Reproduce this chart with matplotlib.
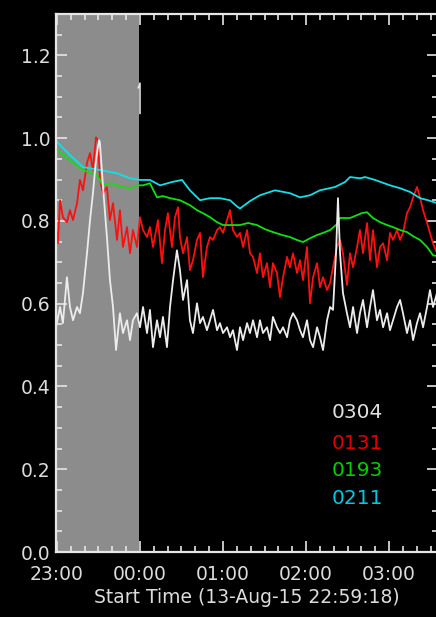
import numpy as np
import matplotlib
matplotlib.use("Agg")
import matplotlib.pyplot as plt
from matplotlib.ticker import MultipleLocator, FixedLocator

# time axis: minutes after 23:00 (start is 22:59:18)
t_start = -0.7
t_end = 275.4
tick_minutes = [0, 60, 120, 180, 240]
tick_labels = ["23:00", "00:00", "01:00", "02:00", "03:00"]
x_title = "Start Time (13-Aug-15 22:59:18)"

# 0304 channel (white)
t_0304 = [-0.7, 2.2, 4.3, 7.2, 9.4, 11.6, 14.5, 16.6, 18.8, 21.7, 23.9, 26.0, 28.2, 30.4, 31.0,
          33.3, 36.1, 38.3, 40.5, 42.7, 45.5, 47.7, 50.6, 52.8, 54.9, 57.8, 60.0, 62.2, 65.1,
          67.2, 69.4, 72.3, 74.5, 76.6, 79.5, 81.7, 83.9, 86.7, 88.9, 91.1, 94.0, 96.1, 98.3,
          101.2, 103.4, 105.5, 108.4, 110.6, 112.8, 115.7, 117.8, 120.0, 122.9, 125.1, 127.2,
          130.1, 132.3, 134.5, 137.4, 139.5, 141.7, 144.6, 146.7, 148.9, 151.8, 154.0, 156.1,
          159.0, 161.2, 163.4, 166.3, 168.4, 170.6, 173.5, 175.7, 177.8, 180.7, 182.9, 185.1,
          188.0, 190.1, 192.3, 195.2, 197.4, 199.5, 201.7, 203.1, 204.6, 206.7, 209.6, 211.8,
          214.0, 216.9, 219.0, 221.2, 224.1, 226.3, 228.4, 231.3, 233.5, 235.7, 238.6, 240.7,
          242.9, 245.8, 248.0, 250.1, 253.0, 255.2, 257.4, 260.2, 262.4, 264.6, 267.5, 269.6,
          271.8, 274.7]
v_0304 = [0.543, 0.592, 0.553, 0.664, 0.592, 0.560, 0.592, 0.577, 0.626, 0.722, 0.802, 0.867,
          0.947, 0.995, 0.990, 0.882, 0.761, 0.657, 0.592, 0.488, 0.577, 0.529, 0.560, 0.512,
          0.560, 0.577, 0.543, 0.592, 0.529, 0.585, 0.495, 0.560, 0.519, 0.568, 0.495, 0.592,
          0.657, 0.729, 0.681, 0.609, 0.657, 0.560, 0.529, 0.601, 0.553, 0.568, 0.536, 0.560,
          0.585, 0.536, 0.553, 0.529, 0.543, 0.519, 0.536, 0.488, 0.543, 0.512, 0.553, 0.529,
          0.560, 0.519, 0.560, 0.529, 0.543, 0.512, 0.568, 0.543, 0.529, 0.543, 0.519, 0.560,
          0.577, 0.560, 0.536, 0.519, 0.560, 0.512, 0.495, 0.543, 0.519, 0.488, 0.560, 0.592,
          0.585, 0.722, 0.855, 0.722, 0.626, 0.577, 0.543, 0.592, 0.529, 0.577, 0.609, 0.543,
          0.592, 0.633, 0.560, 0.585, 0.543, 0.577, 0.536, 0.560, 0.592, 0.609, 0.577, 0.529,
          0.560, 0.512, 0.553, 0.577, 0.543, 0.592, 0.633, 0.592, 0.626]

# 0131 channel (red)
t_0131 = [-0.7, 0.7, 2.2, 4.3, 7.2, 9.4, 11.6, 14.5, 16.6, 18.8, 21.7, 23.9, 26.0, 28.2, 29.6,
          31.1, 33.3, 36.1, 38.3, 40.5, 43.4, 45.5, 47.7, 50.6, 52.8, 54.9, 57.8, 60.0, 62.2,
          65.1, 67.2, 69.4, 73.0, 75.9, 78.1, 80.2, 83.1, 85.3, 87.5, 88.9, 91.1, 94.0, 96.1,
          98.3, 101.2, 103.4, 105.5, 108.4, 110.6, 112.8, 115.7, 117.8, 120.0, 122.9, 125.1,
          127.2, 130.1, 132.3, 134.5, 137.4, 139.5, 141.7, 144.6, 146.7, 148.9, 151.8, 154.0,
          156.1, 159.0, 161.2, 163.4, 166.3, 168.4, 170.6, 173.5, 175.7, 177.8, 180.7, 182.9,
          185.1, 188.0, 190.1, 192.3, 195.2, 197.4, 199.5, 202.4, 204.6, 206.7, 209.6, 211.8,
          214.0, 216.9, 219.0, 221.2, 224.1, 226.3, 228.4, 231.3, 233.5, 235.7, 238.6, 240.7,
          242.9, 245.8, 248.0, 250.1, 253.0, 255.2, 257.4, 260.2, 262.4, 264.6, 267.5, 269.6,
          271.8, 274.7]
v_0131 = [0.783, 0.746, 0.850, 0.809, 0.797, 0.826, 0.802, 0.843, 0.899, 0.874, 0.940, 0.964,
          0.923, 1.002, 0.995, 0.899, 0.867, 0.882, 0.802, 0.843, 0.754, 0.826, 0.737, 0.785,
          0.722, 0.778, 0.737, 0.809, 0.778, 0.761, 0.785, 0.737, 0.802, 0.698, 0.778, 0.819,
          0.737, 0.809, 0.833, 0.761, 0.722, 0.761, 0.681, 0.705, 0.754, 0.771, 0.664, 0.737,
          0.761, 0.754, 0.778, 0.785, 0.771, 0.802, 0.826, 0.778, 0.761, 0.771, 0.737, 0.778,
          0.722, 0.713, 0.674, 0.722, 0.664, 0.698, 0.640, 0.698, 0.674, 0.616, 0.664, 0.713,
          0.688, 0.722, 0.674, 0.705, 0.657, 0.737, 0.601, 0.664, 0.698, 0.640, 0.664, 0.633,
          0.650, 0.688, 0.737, 0.754, 0.722, 0.645, 0.722, 0.688, 0.737, 0.778, 0.722, 0.795,
          0.705, 0.778, 0.688, 0.737, 0.746, 0.705, 0.771, 0.754, 0.778, 0.754, 0.771, 0.819,
          0.833, 0.857, 0.882, 0.857, 0.826, 0.795, 0.771, 0.746, 0.722]

# 0193 channel (green)
t_0193 = [-0.7, 2.2, 9.4, 18.8, 28.9, 33.3, 38.3, 43.4, 47.7, 52.8, 57.8, 62.2, 67.2, 72.3,
          76.6, 81.7, 88.9, 96.1, 101.2, 107.0, 110.6, 115.7, 120.0, 126.5, 132.3, 138.1, 144.6,
          150.4, 156.1, 162.7, 168.4, 173.5, 177.8, 182.9, 188.0, 192.3, 197.4, 202.4, 204.6,
          208.2, 211.8, 216.9, 220.5, 224.1, 228.4, 233.5, 238.6, 242.9, 248.0, 253.0, 257.4,
          262.4, 267.5, 271.8, 274.7]
v_0193 = [0.976, 0.966, 0.947, 0.923, 0.911, 0.886, 0.891, 0.886, 0.882, 0.879, 0.886, 0.886,
          0.891, 0.857, 0.860, 0.855, 0.850, 0.838, 0.826, 0.816, 0.809, 0.797, 0.790, 0.790,
          0.790, 0.795, 0.790, 0.780, 0.773, 0.766, 0.761, 0.754, 0.749, 0.758, 0.766, 0.771,
          0.778, 0.792, 0.807, 0.807, 0.807, 0.814, 0.819, 0.821, 0.807, 0.797, 0.790, 0.785,
          0.778, 0.773, 0.763, 0.754, 0.737, 0.717, 0.715]

# 0211 channel (cyan)
t_0211 = [-0.7, 2.2, 9.4, 18.8, 31.1, 43.4, 52.8, 60.0, 67.2, 74.5, 83.1, 90.4, 96.1, 103.4,
          110.6, 117.8, 125.1, 130.1, 132.3, 139.5, 146.7, 157.6, 168.4, 175.7, 182.9, 190.1,
          201.0, 208.2, 211.8, 219.0, 222.7, 229.9, 240.7, 248.0, 255.2, 262.4, 268.2, 274.7]
v_0211 = [0.995, 0.983, 0.959, 0.930, 0.923, 0.915, 0.903, 0.899, 0.899, 0.886, 0.894, 0.899,
          0.874, 0.850, 0.855, 0.855, 0.850, 0.835, 0.830, 0.848, 0.862, 0.874, 0.867, 0.857,
          0.862, 0.874, 0.882, 0.894, 0.906, 0.903, 0.906, 0.899, 0.886, 0.879, 0.870, 0.855,
          0.850, 0.843]

channels = ["0304", "0131", "0193", "0211"]
colors = ["#ececec", "#ff1010", "#10e010", "#10e0e8"]
text_colors = ["#e0e0e0", "#e00000", "#00d000", "#00c8e0"]

fig = plt.figure(figsize=(4.36, 6.17), dpi=100, facecolor="black")
ax = fig.add_axes([56 / 436, 1 - 552 / 617, 382 / 436, 538 / 617])
ax.set_facecolor("black")

# shaded first hour
ax.axvspan(t_start, t_start + 60, color="#8c8c8c", lw=0, zorder=0)

series = {
    "0131": (t_0131, v_0131),
    "0193": (t_0193, v_0193),
    "0211": (t_0211, v_0211),
    "0304": (t_0304, v_0304),
}
for name in ["0131", "0193", "0211", "0304"]:
    t, v = series[name]
    ax.plot(t, v, color=colors[channels.index(name)], lw=1.3, zorder=2)

# small marker at 00:00
ax.plot([58.8, 60.0, 60.0], [1.122, 1.133, 1.060], color="#e0e0e0", lw=1.2, zorder=3)

ax.set_xlim(t_start, t_end)
ax.set_ylim(0, 1.3)
ax.xaxis.set_major_locator(FixedLocator(tick_minutes))
ax.set_xticklabels(tick_labels)
ax.xaxis.set_minor_locator(MultipleLocator(10))
ax.yaxis.set_major_locator(FixedLocator([0.0, 0.2, 0.4, 0.6, 0.8, 1.0, 1.2]))
ax.yaxis.set_major_formatter(matplotlib.ticker.FormatStrFormatter("%.1f"))
ax.yaxis.set_minor_locator(MultipleLocator(0.05))

for s in ax.spines.values():
    s.set_color("#e6e6e6")
    s.set_linewidth(1.6)

ax.tick_params(which="both", direction="in", colors="#e6e6e6", top=True, right=True,
               labelcolor="#dcdcdc", labelsize=13.5, width=1.2)
ax.tick_params(which="major", length=8)
ax.tick_params(which="minor", length=4)
ax.tick_params(axis="x", which="major", pad=9)
ax.tick_params(axis="y", which="major", pad=4)

ax.set_xlabel(x_title, color="#dcdcdc", fontsize=13.5, labelpad=3)

# channel labels
label_y = [0.338, 0.263, 0.198, 0.130]
for name, y, c in zip(channels, label_y, text_colors):
    ax.text(198.8, y, name, color=c, fontsize=14.5, va="center", ha="left", zorder=4)

fig.savefig("out.png", dpi=100, facecolor="black")
